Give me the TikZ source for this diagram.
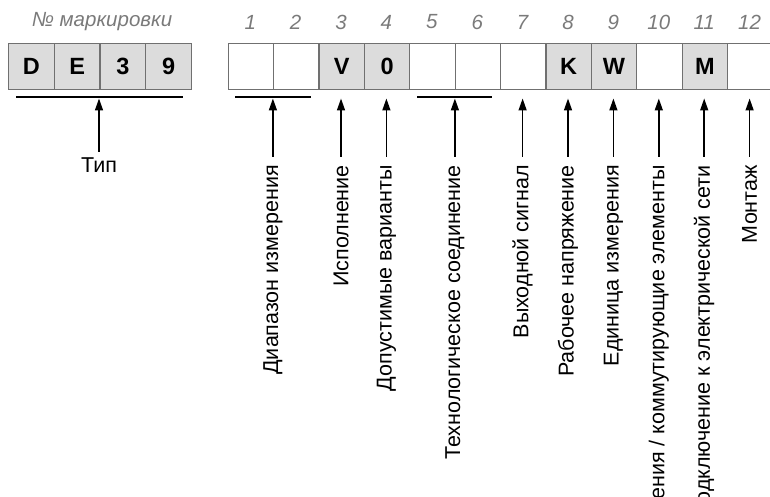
\documentclass[tikz,border=0pt]{standalone}
\usepackage{fontspec}
\setmainfont{Liberation Sans}
\usetikzlibrary{arrows.meta}
\definecolor{boxfill}{HTML}{DCDCDC}
\definecolor{boxline}{HTML}{707070}
\definecolor{numgray}{HTML}{7A7A7A}
\tikzset{
  cell/.style={draw=boxline, line width=1.2pt, minimum width=45.5pt, minimum height=46pt, inner sep=0pt, anchor=north west, font=\fontsize{23.5}{23.5}\selectfont\bfseries},
  filled/.style={cell, fill=boxfill},
  num/.style={text=numgray, font=\fontsize{20.5}{20.5}\selectfont\itshape, inner sep=0pt},
  lab/.style={rotate=90, anchor=east, inner sep=0pt, font=\fontsize{21.5}{21.5}\selectfont},
  bar/.style={line width=2.6pt},
  arr/.style={line width=1.5pt, -{Triangle[length=12pt,width=8pt]}, shorten <=8pt}
}
\begin{document}
\begin{tikzpicture}[x=1pt,y=-1pt]
\clip (0,0) rectangle (770,497);
% left group
\node[filled] (d) at (8,43) {D};
\node[filled] (e) at (53.75,43) {E};
\node[filled] (t) at (99.5,43) {3};
\node[filled] (n) at (145.25,43) {9};
\node[num] (nm) at (102,22) {№ маркировки};
\coordinate (lb1) at (16,97);
\coordinate (lb2) at (183,97);
\draw[bar] (lb1) -- (lb2);
\coordinate (tipT) at (99,98.5);
\node[inner sep=0pt, anchor=north, font=\fontsize{21.5}{21.5}\selectfont] (typ) at (99,158) {Тип};
\draw[line width=1.5pt, -{Triangle[length=12pt,width=8pt]}, shorten <=6pt] (typ.north) -- (tipT);
% right group
\foreach \i/\t/\s in {1//cell,2//cell,3/V/filled,4/0/filled,5//cell,6//cell,7//cell,8/K/filled,9/W/filled,10//cell,11/M/filled,12//cell}{
  \node[\s] (b\i) at ({227.5+(\i-1)*45.4},43) {\t};
  \node[num] (n\i) at ({227.5+(\i-0.5)*45.4},22) {\i};
}
\coordinate (rb1) at (235,97);
\coordinate (rb2) at (311,97);
\coordinate (rb3) at (417,97);
\coordinate (rb4) at (492,97);
\draw[bar] (rb1) -- (rb2);
\draw[bar] (rb3) -- (rb4);
% tips
\coordinate (p12) at (272.9,98.5);
\coordinate (p3) at (341,98.5);
\coordinate (p4) at (386.4,98.5);
\coordinate (p56) at (454.9,98.5);
\coordinate (p7) at (522.6,98.5);
\coordinate (p8) at (568,98.5);
\coordinate (p9) at (613.4,98.5);
\coordinate (p10) at (658.8,98.5);
\coordinate (p11) at (704.2,98.5);
\coordinate (p12b) at (749.6,98.5);
% labels
\node[lab] (l12) at (272.9,165) {Диапазон измерения};
\node[lab] (l3) at (341,165) {Исполнение};
\node[lab] (l4) at (386.4,165) {Допустимые варианты};
\node[lab] (l56) at (454.9,165) {Технологическое соединение};
\node[lab] (l7) at (522.6,165) {Выходной сигнал};
\node[lab] (l8) at (568,165) {Рабочее напряжение};
\node[lab] (l9) at (613.4,165) {Единица измерения};
\node[lab] (l10) at (658.8,165) {ения / коммутирующие элементы};
\node[lab] (l11) at (704.2,165) {одключение к электрической сети};
\node[lab] (l12b) at (749.6,165) {Монтаж};
\foreach \a/\b in {l12/p12,l3/p3,l4/p4,l56/p56,l7/p7,l8/p8,l9/p9,l10/p10,l11/p11,l12b/p12b}{
  \draw[arr] (\a.east) -- (\b);
}
\end{tikzpicture}
\end{document}
